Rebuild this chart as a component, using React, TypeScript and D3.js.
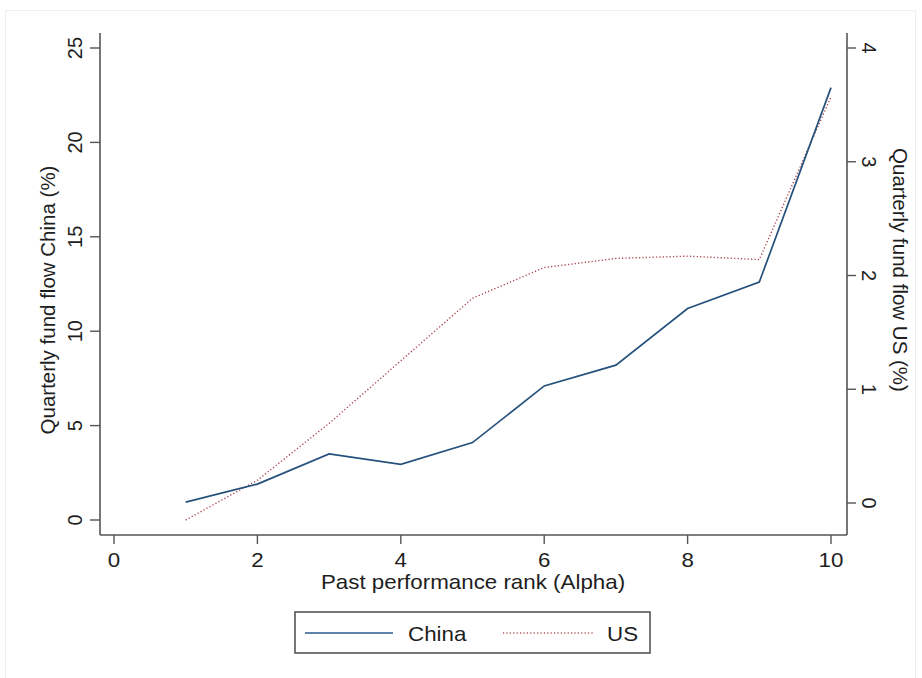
import React from "react";
import * as d3 from "d3";

const ranks = [1, 2, 3, 4, 5, 6, 7, 8, 9, 10];
const chinaFlow = [0.95, 1.9, 3.5, 2.95, 4.1, 7.1, 8.2, 11.2, 12.6, 22.9];
const usFlow = [-0.15, 0.2, 0.7, 1.25, 1.8, 2.07, 2.15, 2.17, 2.14, 3.57];
const xTicks = [0, 2, 4, 6, 8, 10];
const leftTicks = [0, 5, 10, 15, 20, 25];
const rightTicks = [0, 1, 2, 3, 4];

const W = 922;
const H = 678;
const FONT = "'Liberation Sans', Arial, Helvetica, sans-serif";
const TXT = "#1e1e1e";
const AX = "#555";

export default function App() {
  const x = d3.scaleLinear().domain([0, 10]).range([114, 831]);
  const yL = d3.scaleLinear().domain([0, 25]).range([520, 48]);
  const yR = d3.scaleLinear().domain([0, 4]).range([503, 48]);
  const left = 100, right = 847, top = 33, bottom = 535;

  const chinaLine = d3.line<number>().x((_, i) => x(ranks[i])).y((d) => yL(d));
  const usLine = d3.line<number>().x((_, i) => x(ranks[i])).y((d) => yR(d));

  const hText = (tx: number, ty: number, s: string, size = 20.5) => (
    <g transform={`translate(${tx},${ty}) scale(1.09,1)`}>
      <text x={0} y={0} textAnchor="middle" fontSize={size} fontFamily={FONT} fill={TXT}>{s}</text>
    </g>
  );

  return (
    <svg width={W} height={H} style={{ position: "absolute", left: 0, top: 0 }}>
      <rect x={0} y={0} width={W} height={H} fill="#fff" />
      <rect x={5.5} y={10.5} width={910} height={680} fill="#fff" stroke="#eee" strokeWidth={1} />
      {/* axes */}
      <line x1={left} y1={top} x2={left} y2={bottom} stroke={AX} strokeWidth={1.6} />
      <line x1={right} y1={top} x2={right} y2={bottom} stroke={AX} strokeWidth={1.6} />
      <line x1={left} y1={bottom} x2={right} y2={bottom} stroke={AX} strokeWidth={1.6} />
      {leftTicks.map((t) => (
        <g key={"l" + t}>
          <line x1={90} x2={left} y1={yL(t)} y2={yL(t)} stroke={AX} strokeWidth={1.4} />
          <text transform={`translate(82,${yL(t)}) rotate(-90)`} textAnchor="middle" fontSize={20} fontFamily={FONT} fill={TXT}>{t}</text>
        </g>
      ))}
      {rightTicks.map((t) => (
        <g key={"r" + t}>
          <line x1={right} x2={856} y1={yR(t)} y2={yR(t)} stroke={AX} strokeWidth={1.4} />
          <text transform={`translate(862,${yR(t)}) rotate(90)`} textAnchor="middle" fontSize={20} fontFamily={FONT} fill={TXT}>{t}</text>
        </g>
      ))}
      {xTicks.map((t) => (
        <g key={"x" + t}>
          <line x1={x(t)} x2={x(t)} y1={bottom} y2={544} stroke={AX} strokeWidth={1.4} />
          {hText(x(t), 567, String(t))}
        </g>
      ))}
      <text transform={`translate(55,300) rotate(-90)`} textAnchor="middle" fontSize={20.5} fontFamily={FONT} fill={TXT}>Quarterly fund flow China (%)</text>
      <text transform={`translate(893,270) rotate(90)`} textAnchor="middle" fontSize={20.5} fontFamily={FONT} fill={TXT}>Quarterly fund flow US (%)</text>
      {hText(473, 589, "Past performance rank (Alpha)")}
      {/* series */}
      <path d={usLine(usFlow) || ""} fill="none" stroke="#a8424a" strokeWidth={1.4} strokeDasharray="1.2 2.2" />
      <path d={chinaLine(chinaFlow) || ""} fill="none" stroke="#25517c" strokeWidth={1.7} />
      {/* legend */}
      <rect x={295} y={612} width={355} height={41} fill="#fff" stroke={AX} strokeWidth={1.6} />
      <line x1={305} x2={393} y1={633} y2={633} stroke="#5f83a6" strokeWidth={2.2} />
      <g transform="translate(408,641) scale(1.09,1)">
        <text x={0} y={0} fontSize={20.5} fontFamily={FONT} fill={TXT}>China</text>
      </g>
      <line x1={503} x2={593} y1={633} y2={633} stroke="#b5545c" strokeWidth={1.3} strokeDasharray="1.2 2.2" />
      <g transform="translate(607,641) scale(1.09,1)">
        <text x={0} y={0} fontSize={20.5} fontFamily={FONT} fill={TXT}>US</text>
      </g>
    </svg>
  );
}
